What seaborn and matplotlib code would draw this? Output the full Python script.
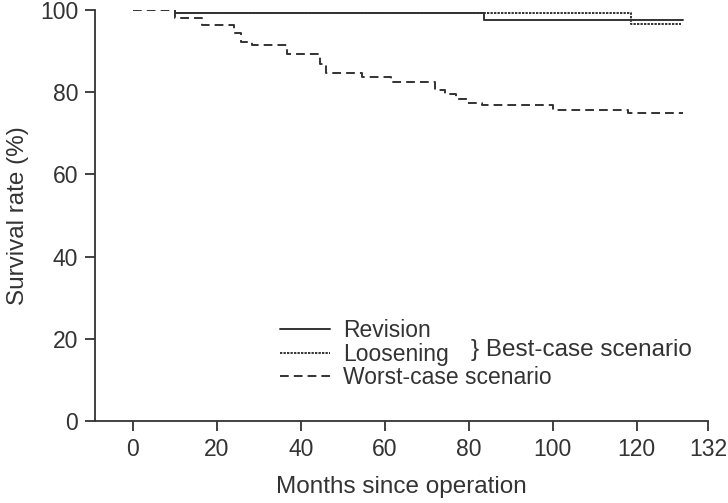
import matplotlib
matplotlib.use("Agg")
import matplotlib.pyplot as plt
import seaborn as sns
import pandas as pd

# Kaplan-Meier style step values (month, survival %)
revision_months = [10, 10, 83.6, 131]
revision_values = [100, 99.2, 97.6, 97.6]

loosening_months = [10, 10, 118.7, 130.5]
loosening_values = [100, 99.2, 96.6, 96.6]

worst_months = [0, 10, 16.6, 24.1, 25.7, 28.4, 36.7, 44.7, 46.0, 54.6, 61.5,
                72.1, 74.3, 77.0, 79.5, 83.2, 100.2, 118.0, 131]
worst_values = [100, 98.0, 96.4, 94.3, 92.2, 91.5, 89.3, 86.8, 84.7, 83.8, 82.6,
                80.6, 79.5, 78.3, 77.5, 76.8, 75.7, 74.9, 74.9]

series_names = ["Revision", "Loosening", "Worst-case scenario"]
x_ticks = [0, 20, 40, 60, 80, 100, 120, 137]
x_tick_labels = ["0", "20", "40", "60", "80", "100", "120", "132"]
y_ticks = [0, 20, 40, 60, 80, 100]

frames = []
for name, m, v in zip(series_names,
                      [revision_months, loosening_months, worst_months],
                      [revision_values, loosening_values, worst_values]):
    frames.append(pd.DataFrame({"month": m, "value": v, "series": name}))
df = pd.concat(frames, ignore_index=True)

sns.set_style("ticks")
plt.rcParams["font.family"] = ["Liberation Sans", "DejaVu Sans"]
ink = "#333333"

fig = plt.figure(figsize=(7.28, 5.03), dpi=100)
ax = fig.add_axes([0.1305, 0.163, 0.842, 0.817])

sns.lineplot(data=df, x="month", y="value", style="series", hue="series",
             palette={n: ink for n in series_names},
             dashes={"Revision": "", "Loosening": (1.2, 0.6),
                     "Worst-case scenario": (4.5, 2.6)},
             estimator=None, sort=False, drawstyle="steps-post",
             linewidth=1.4, ax=ax, legend=False)

ax.set_xlim(-9, 137)
ax.set_ylim(0, 100)
ax.set_xticks(x_ticks)
ax.set_xticklabels(x_tick_labels)
ax.set_yticks(y_ticks)
ax.set_xlabel("Months since operation", fontsize=17.5, color=ink, labelpad=11)
ax.set_ylabel("Survival rate (%)", fontsize=17.5, color=ink, labelpad=8)
ax.tick_params(axis="both", labelsize=16.5, colors=ink, length=7, width=1.3,
               pad=5)
for side in ["top", "right"]:
    ax.spines[side].set_visible(False)
for side in ["left", "bottom"]:
    ax.spines[side].set_linewidth(1.3)
    ax.spines[side].set_color(ink)

# legend drawn by hand to mimic the original
handles = [plt.Line2D([], [], color=ink, lw=1.4, linestyle=ls)
           for ls in ["-", (0, (1.2, 0.6)), (0, (4.5, 2.6))]]
leg = ax.legend(handles, series_names, frameon=False, fontsize=16.5,
                loc="upper left", bbox_to_anchor=(0.2864, 0.27),
                handlelength=2.2, handletextpad=0.58, labelspacing=0.02,
                borderaxespad=0)
for t in leg.get_texts():
    t.set_color(ink)
ax.text(0.613, 0.173, "} Best-case scenario", transform=ax.transAxes,
        fontsize=17.5, color=ink, va="center")

fig.savefig("out.png", dpi=100)
